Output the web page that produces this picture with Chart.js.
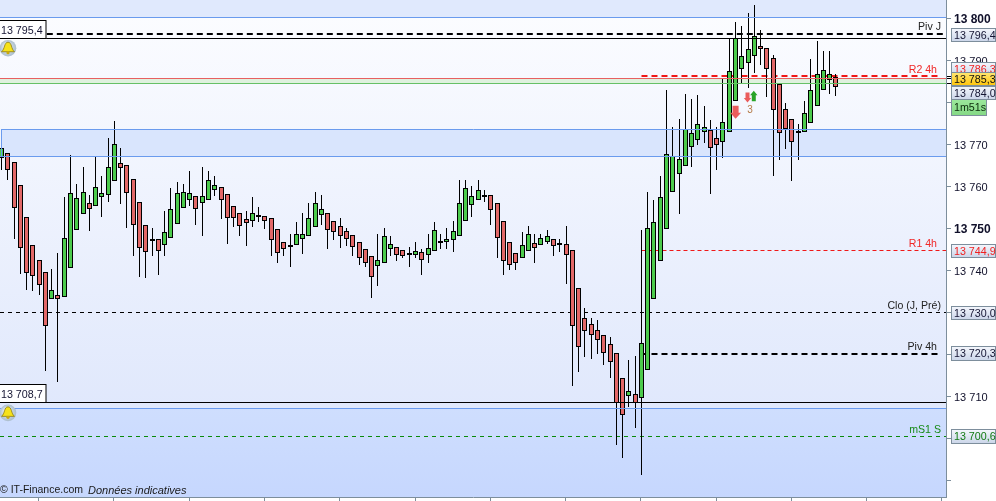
<!DOCTYPE html>
<html><head><meta charset="utf-8">
<style>html,body{margin:0;padding:0;background:#fff}canvas{display:block}</style>
<script src="https://cdn.jsdelivr.net/npm/chart.js@4"></script>
</head><body><canvas id="c" width="996" height="501"></canvas>
<script>
const opens=[13766.8,13768.0,13765.9,13760.4,13752.8,13746.1,13742.5,13739.7,13733.2,13734.2,13733.7,13740.8,13749.7,13753.5,13756.1,13755.4,13757.5,13758.0,13761.3,13765.6,13765.1,13761.8,13756.3,13750.9,13747.3,13747.5,13746.1,13747.8,13751.1,13754.9,13756.8,13757.8,13756.1,13757.0,13759.2,13759.9,13758.2,13755.4,13753.9,13752.3,13751.8,13752.8,13753.0,13752.5,13749.9,13747.0,13746.0,13746.1,13747.5,13748.2,13750.4,13753.2,13753.9,13751.8,13750.6,13749.4,13748.5,13747.0,13745.1,13743.5,13741.1,13742.0,13745.1,13745.6,13744.9,13744.2,13743.9,13744.4,13743.7,13744.7,13746.9,13747.0,13747.3,13748.2,13752.0,13755.8,13756.8,13757.8,13758.0,13756.1,13752.0,13747.0,13744.2,13743.0,13744.7,13746.6,13746.1,13746.8,13747.5,13746.6,13746.3,13744.9,13735.9,13728.9,13727.3,13725.9,13724.7,13722.5,13720.4,13714.4,13710.1,13710.8,13709.7,13716.3,13733.2,13742.3,13749.9,13758.9,13763.0,13764.9,13769.4,13771.1,13773.0,13773.5,13771.6,13770.6,13773.0,13780.4,13788.0,13789.4,13791.1,13793.5,13793.0,13790.6,13784.4,13778.5,13776.1,13773.2,13773.0,13775.1,13779.2,13783.0,13785.4,13786.1];
const highs=[13769.2,13768.0,13765.9,13760.4,13752.8,13746.1,13742.5,13739.7,13740.5,13744.2,13757.6,13767.6,13760.7,13764.7,13758.1,13767.2,13762.6,13771.6,13775.7,13769.2,13765.1,13761.8,13756.3,13750.9,13750.1,13747.5,13754.3,13759.7,13761.2,13760.6,13763.8,13757.8,13764.7,13763.8,13762.6,13759.9,13758.2,13755.4,13753.9,13754.2,13757.5,13755.1,13753.0,13752.5,13749.9,13747.0,13748.7,13751.6,13753.7,13756.1,13758.7,13758.0,13753.9,13751.8,13752.5,13750.1,13748.5,13747.0,13745.1,13743.5,13748.7,13750.1,13748.2,13745.6,13744.9,13745.6,13747.0,13745.1,13748.7,13751.6,13748.7,13750.1,13752.0,13761.6,13761.6,13760.1,13761.6,13759.2,13758.0,13756.1,13752.0,13747.0,13744.2,13749.2,13750.6,13748.7,13748.7,13749.7,13747.5,13747.5,13750.6,13744.9,13735.9,13731.1,13728.7,13728.2,13724.7,13724.2,13720.4,13714.4,13718.7,13719.7,13749.7,13758.7,13757.0,13762.5,13783.1,13774.2,13776.1,13782.1,13780.9,13781.9,13779.2,13775.9,13774.2,13785.6,13795.4,13799.2,13798.2,13801.3,13803.3,13797.3,13793.0,13791.3,13784.4,13779.9,13776.1,13774.9,13780.4,13790.4,13794.7,13792.3,13792.3,13786.8];
const lows=[13764.0,13761.6,13747.6,13739.3,13735.5,13735.2,13734.3,13716.2,13733.2,13713.6,13733.7,13740.8,13749.7,13753.5,13749.6,13755.4,13752.9,13756.5,13761.3,13755.9,13750.1,13743.6,13738.6,13738.2,13743.6,13739.1,13743.6,13747.8,13751.1,13754.9,13755.5,13751.0,13748.2,13757.0,13757.9,13752.4,13746.5,13750.5,13748.2,13746.0,13750.5,13751.6,13750.0,13743.6,13742.0,13743.5,13741.0,13746.1,13744.1,13748.2,13750.4,13751.0,13745.1,13747.4,13745.5,13746.0,13743.6,13741.5,13741.0,13733.6,13736.5,13742.0,13743.6,13742.4,13743.1,13741.0,13743.1,13739.1,13742.0,13744.7,13745.1,13745.1,13744.6,13748.2,13752.0,13752.9,13756.8,13756.5,13750.9,13743.1,13739.1,13740.1,13740.1,13743.0,13744.7,13742.0,13746.1,13746.5,13743.5,13744.6,13737.0,13712.7,13716.0,13719.6,13719.1,13720.1,13717.7,13714.6,13698.6,13695.5,13707.7,13702.7,13691.5,13716.3,13733.2,13742.3,13749.9,13758.9,13753.6,13764.9,13764.8,13769.9,13770.4,13758.2,13764.1,13766.8,13773.0,13780.4,13784.7,13783.6,13787.2,13789.0,13781.3,13762.7,13766.3,13769.1,13761.3,13766.3,13773.0,13775.1,13779.2,13783.0,13782.2,13781.7];
const closes=[13769.2,13764.0,13754.9,13745.4,13739.4,13738.9,13736.6,13726.8,13735.4,13733.2,13747.8,13758.5,13757.3,13758.7,13754.7,13759.9,13758.5,13764.7,13770.1,13764.4,13758.5,13750.9,13745.4,13744.4,13747.5,13744.7,13749.2,13754.7,13758.5,13758.9,13758.5,13754.7,13757.8,13761.6,13760.4,13756.8,13752.5,13752.5,13750.6,13751.3,13753.7,13753.2,13752.0,13747.3,13744.2,13745.1,13746.2,13748.9,13748.9,13752.5,13756.1,13754.7,13749.7,13749.2,13748.2,13747.5,13745.6,13743.0,13742.0,13738.5,13742.7,13748.2,13746.3,13743.9,13743.5,13743.7,13744.7,13742.7,13745.4,13749.7,13747.1,13747.5,13749.4,13756.1,13759.7,13757.8,13759.2,13758.0,13754.4,13747.8,13742.3,13741.3,13741.8,13746.1,13748.7,13745.4,13747.8,13748.2,13745.9,13746.1,13743.7,13726.8,13721.8,13725.6,13724.7,13723.5,13720.4,13718.2,13708.5,13705.8,13711.3,13708.5,13722.8,13750.1,13751.6,13757.5,13767.8,13767.3,13766.6,13773.9,13772.8,13774.9,13774.2,13769.2,13769.9,13775.4,13787.5,13795.5,13791.1,13792.8,13795.9,13792.8,13788.0,13778.2,13772.8,13773.7,13770.6,13772.8,13777.5,13783.0,13786.8,13787.8,13786.8,13783.9];
const xTickIndex=[6,18,30,42,54,66,78,90,102,114,126,138,150];
const yTickValues=[13690,13700,13710,13720,13730,13740,13750,13760,13770,13780,13790,13800];
const yTickHidden=[13690,13700,13720,13730,13780];
const yTickBold=[13750,13800];
const levelPivJ=13796.4, levelR2=13786.3, levelR1=13744.9, levelClo=13730.0, levelPiv4h=13720.3, levelS1=13700.6;
const levelPrevHigh=13795.4, levelPrevLow=13708.7, levelRed=13785.86, levelGreen=13784.67;
const zoneTop=13800.45, zoneUpper=13773.7, zoneLower=13767.35, zoneBottom=13707.3;

const fr=v=>{const s=v.toFixed(1).replace('.',',');return s.slice(0,2)+' '+s.slice(2);};
const lastX=150.64, firstX=-0.16, x4h=102.1;
function lvl(label,a,b,y,color,width,dash,order){
  return {type:'line',label,order,data:[{x:a,y},{x:b,y}],borderColor:color,borderWidth:width,borderDash:dash,
    pointRadius:0,tension:0,fill:false,_level:true};
}
const idx=opens.map((_,i)=>i);
const datasets=[
 lvl('zt',firstX,lastX,zoneTop,'#6a9bee',1,[],0),
 lvl('zu',0.0,lastX,zoneUpper,'#6a9bee',1,[],0),
 lvl('zl',firstX,lastX,zoneLower,'#6a9bee',1,[],0),
 lvl('zb',firstX,lastX,zoneBottom,'#6a9bee',1,[],0),
 lvl('red',firstX,lastX,levelRed,'#e86060',1,[],0),
 lvl('green',firstX,lastX,levelGreen,'#66c066',1,[],0),
 lvl('hi',7.2,lastX,levelPrevHigh,'#000',1,[],0),
 lvl('lo',firstX,lastX,levelPrevLow,'#000',1,[],0),
 {type:'bar',label:'body',order:1,data:idx.map(i=>({x:i,y:[opens[i],closes[i]]})),barThickness:5,grouped:false,
  backgroundColor:idx.map(i=>closes[i]>=opens[i]?'#4ccb4c':'#e26868'),borderColor:'#000',borderWidth:1,borderSkipped:false,inflateAmount:0,_body:true},
 {type:'bar',label:'wick',order:2,data:idx.map(i=>({x:i,y:[lows[i],highs[i]]})),barThickness:1,grouped:false,
  backgroundColor:'#000',borderWidth:0,inflateAmount:0,_wick:true},
 lvl('Piv J',7.3,lastX,levelPivJ,'#000',2,[6,4],3),
 lvl('R2 4h',x4h,149.9,levelR2,'#f01818',2,[6,4],3),
 lvl('R1 4h',x4h,lastX,levelR1,'#f01818',1,[4,3],3),
 lvl('Clo',firstX,lastX,levelClo,'#000',1,[4,4],3),
 lvl('Piv 4h',x4h,149.9,levelPiv4h,'#000',2,[6,4],3),
 lvl('mS1 S',firstX,lastX,levelS1,'#0a8a0a',1,[4,4],3),
];

const snap={id:'snap',beforeDatasetsDraw(chart){
  chart.data.datasets.forEach((ds,i)=>{
    const m=chart.getDatasetMeta(i);
    if(ds._level){m.data.forEach(p=>{p.y=ds.borderWidth%2?Math.floor(p.y)+0.5:Math.round(p.y);});}
    else{m.data.forEach(el=>{
      el.x=Math.round(el.x)+0.5;
      let a=Math.round(Math.min(el.y,el.base)),b=Math.round(Math.max(el.y,el.base));
      if(ds._body&&b-a<2)b=a+2;
      el.y=a;el.base=b;
    });}
  });
}};

function bell(ctx,x,y){
  const g=ctx.createRadialGradient(x-2,y-2,1,x,y,8.5);
  g.addColorStop(0,'#eef3f8');g.addColorStop(1,'#a9bccb');
  ctx.fillStyle=g;ctx.beginPath();ctx.arc(x,y,8.3,0,Math.PI*2);ctx.fill();
  ctx.fillStyle='#f6e21a';ctx.strokeStyle='#8c7a10';ctx.lineWidth=0.8;
  ctx.beginPath();ctx.moveTo(x,y-6);ctx.bezierCurveTo(x+4,y-6,x+3,y+1,x+6.5,y+3.5);ctx.lineTo(x-6.5,y+3.5);
  ctx.bezierCurveTo(x-3,y+1,x-4,y-6,x,y-6);ctx.closePath();ctx.fill();ctx.stroke();
  ctx.fillStyle='#c9a90f';ctx.beginPath();ctx.arc(x,y+4.5,1.6,0,Math.PI*2);ctx.fill();
}
function arrow(ctx,cx,yA,yB,hw,sw,hl,color){
  const d=yB>yA?1:-1;
  ctx.fillStyle=color;ctx.beginPath();
  ctx.moveTo(cx-sw,yA);ctx.lineTo(cx+sw,yA);ctx.lineTo(cx+sw,yB-d*hl);ctx.lineTo(cx+hw,yB-d*hl);
  ctx.lineTo(cx,yB);ctx.lineTo(cx-hw,yB-d*hl);ctx.lineTo(cx-sw,yB-d*hl);ctx.closePath();ctx.fill();
}
const bg={id:'bg',beforeDraw(chart){
  const {ctx,chartArea:a,scales:{y}}=chart;
  const yT=y.getPixelForValue(zoneTop),yU=y.getPixelForValue(zoneUpper),yL=y.getPixelForValue(zoneLower),yB=y.getPixelForValue(zoneBottom);
  const w=a.right-a.left;
  ctx.save();
  ctx.fillStyle='#ffffff';ctx.fillRect(0,0,996,501);
  ctx.fillStyle='#e0e9fd';ctx.fillRect(a.left,a.top,w,yT-a.top);
  let g=ctx.createLinearGradient(0,yT,0,yB);g.addColorStop(0,'#fbfcff');g.addColorStop(1,'#e0e8fc');
  ctx.fillStyle=g;ctx.fillRect(a.left,yT,w,yB-yT);
  ctx.fillStyle='#d9e5fd';ctx.fillRect(a.left+1,yU,w-1,yL-yU);
  g=ctx.createLinearGradient(0,yB,0,a.bottom);g.addColorStop(0,'#cfdefe');g.addColorStop(1,'#c6d7fe');
  ctx.fillStyle=g;ctx.fillRect(a.left,yB,w,a.bottom-yB);
  ctx.fillStyle='#dff1de';ctx.fillRect(a.left,y.getPixelForValue(levelRed),w,y.getPixelForValue(levelGreen)-y.getPixelForValue(levelRed));
  ctx.restore();
}};
const FONT='"Liberation Sans",Arial,sans-serif';
const flags={id:'flags',afterDraw(chart){
  const {ctx,chartArea:a,scales:{x,y}}=chart;
  ctx.save();
  ctx.strokeStyle='#6a9bee';ctx.lineWidth=1;ctx.beginPath();
  ctx.moveTo(1.5,Math.floor(y.getPixelForValue(zoneUpper))+.5);ctx.lineTo(1.5,Math.floor(y.getPixelForValue(zoneLower))+.5);ctx.stroke();
  ctx.textAlign='right';ctx.textBaseline='middle';ctx.font='10.6px '+FONT;
  const cap=(t,v,xr,c)=>{ctx.fillStyle=c;ctx.fillText(t,xr,y.getPixelForValue(v)-6.6);};
  cap('Piv J',levelPivJ,941,'#222');
  cap('R2 4h',levelR2,937,'#f02828');
  cap('R1 4h',levelR1,937,'#f02828');
  cap('Clo (J, Pré)',levelClo,941,'#222');
  cap('Piv 4h',levelPiv4h,937,'#222');
  cap('mS1 S',levelS1,941,'#178a17');
  ctx.strokeStyle='#000';
  [levelR2,levelRed,levelGreen].forEach(v=>{const p=Math.floor(y.getPixelForValue(v))+.5;ctx.beginPath();ctx.moveTo(947,p);ctx.lineTo(951,p);ctx.stroke();});
  const flag=(t,v,dy,col,c1,c2,x0,x1,h)=>{
    const yc=y.getPixelForValue(v)+dy,top=Math.round(yc-h/2);
    const g=ctx.createLinearGradient(0,top,0,top+h);g.addColorStop(0,c1);g.addColorStop(1,c2);
    ctx.fillStyle=g;ctx.fillRect(x0,top,x1-x0,h);
    ctx.strokeStyle='#7d8e9c';ctx.lineWidth=1;ctx.strokeRect(x0+.5,top+.5,x1-x0-1,h-1);
    ctx.save();ctx.beginPath();ctx.rect(x0,top,x1-x0,h);ctx.clip();
    ctx.fillStyle=col;ctx.textAlign='left';ctx.textBaseline='middle';ctx.font='10.7px '+FONT;
    ctx.fillText(t,x0+3,top+h/2+1);ctx.restore();
  };
  const BL1='#f6f8fd',BL2='#c9d4e8';
  flag(fr(levelPivJ),levelPivJ,1.2,'#141432',BL1,BL2,951,996,14);
  flag(fr(levelR2),levelR2,-7,'#f02020',BL1,BL2,951,996,14);
  flag(fr(13785.3),13785.3,-1.5,'#101010','#ffe878','#ffc408',951,996,14);
  flag(fr(13784.0),13784.0,6.5,'#141432',BL1,BL2,951,996,14);
  flag('1m51s',13784.0,21,'#0a2a0a','#9ce89c','#84d884',951,987,17);
  flag(fr(levelR1),levelR1,0.4,'#f02020',BL1,BL2,951,996,14);
  flag(fr(levelClo),levelClo,0,'#141432',BL1,BL2,951,996,14);
  flag(fr(levelPiv4h),levelPiv4h,0,'#141432',BL1,BL2,951,996,15);
  flag(fr(levelS1),levelS1,0.5,'#127a12',BL1,BL2,951,996,15);
  const box=(v)=>{const b=Math.round(y.getPixelForValue(v));
    ctx.fillStyle='#fff';ctx.fillRect(0,b-18,46,18);ctx.strokeStyle='#000';ctx.lineWidth=1;
    ctx.strokeRect(-1,b-17.5,47,18);
    ctx.fillStyle='#141432';ctx.textAlign='left';ctx.textBaseline='middle';ctx.font='10.7px '+FONT;
    ctx.fillText(fr(v),1,b-7);};
  box(levelPrevHigh);box(levelPrevLow);
  bell(ctx,8,y.getPixelForValue(levelPrevHigh)+10);
  bell(ctx,8,y.getPixelForValue(levelPrevLow)+10.5);
  arrow(ctx,x.getPixelForValue(117.1),y.getPixelForValue(13779.3),y.getPixelForValue(13776.2),5.5,3,6,'#ea5c5c');
  arrow(ctx,x.getPixelForValue(119.0),y.getPixelForValue(13782.5),y.getPixelForValue(13780.1),3.7,2,4.5,'#ea5c5c');
  arrow(ctx,x.getPixelForValue(120.0),y.getPixelForValue(13780.4),y.getPixelForValue(13782.9),3.7,2,4.5,'#28a428');
  ctx.fillStyle='#b47a46';ctx.textAlign='center';ctx.textBaseline='middle';ctx.font='10px '+FONT;
  ctx.fillText('3',750,110.5);
  ctx.fillStyle='#1a1a1a';ctx.textAlign='left';ctx.textBaseline='middle';
  ctx.font='10.5px '+FONT;ctx.fillText('© IT-Finance.com',0,490.5);
  ctx.font='italic 11px '+FONT;ctx.fillText('Données indicatives',88,490.5);
  ctx.restore();
}};
Chart.defaults.font.family=FONT;
new Chart(document.getElementById('c'),{
  type:'bar',data:{datasets},plugins:[bg,snap,flags],
  options:{responsive:false,animation:false,devicePixelRatio:1,
    layout:{padding:0},
    plugins:{legend:{display:false},tooltip:{enabled:false}},
    scales:{
      x:{type:'linear',offset:false,min:firstX,max:lastX,position:'bottom',
        afterBuildTicks(s){s.ticks=xTickIndex.map(v=>({value:v}));},
        afterFit(s){s.height=4;s.paddingLeft=0;s.paddingRight=0;},
        grid:{offset:false,drawOnChartArea:false,drawTicks:true,tickLength:4,color:'#7d8e9c'},
        border:{color:'#7d8e9c',width:1},
        ticks:{display:true,autoSkip:false,callback:()=>'',padding:0,maxRotation:0,font:{size:1}}},
      y:{type:'linear',position:'right',min:13686.17,max:13804.5,
        afterBuildTicks(s){s.ticks=yTickValues.map(v=>({value:v}));},
        afterFit(s){s.width=50;s.paddingTop=0;s.paddingBottom=0;},
        grid:{drawOnChartArea:false,drawTicks:true,tickLength:5,color:'#7d8e9c'},
        border:{color:'#7d8e9c',width:1},
        ticks:{autoSkip:false,padding:3,color:'#10102a',labelOffset:1,
          font:c=>yTickBold.includes(c.tick&&c.tick.value)?{size:12,weight:'bold',family:FONT}:{size:11,family:FONT},
          callback:v=>yTickHidden.includes(v)?'':String(v).slice(0,2)+' '+String(v).slice(2)}}
    }}
});
</script></body></html>
